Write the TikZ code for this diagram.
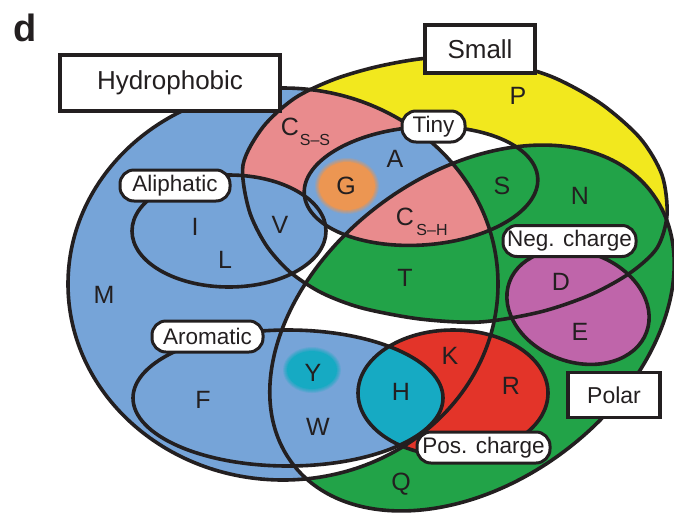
\documentclass[tikz,border=0pt]{standalone}
\usepackage{fontspec}
\setmainfont{Liberation Sans}
\definecolor{blu}{RGB}{118,164,216}
\definecolor{yel}{RGB}{242,232,30}
\definecolor{pnk}{RGB}{233,139,141}
\definecolor{grn}{RGB}{34,163,72}
\definecolor{rd}{RGB}{227,52,41}
\definecolor{cyn}{RGB}{22,170,195}
\definecolor{mag}{RGB}{191,101,170}
\definecolor{org}{RGB}{236,150,82}
\definecolor{lc}{RGB}{35,31,32}
\definecolor{tc}{RGB}{35,31,32}
\begin{document}
\begin{tikzpicture}[x=1pt,y=-1pt,
  outl/.style={draw=lc, line width=3.6pt},
  lab/.style={text=tc, font=\fontsize{25}{29}\selectfont, inner sep=0pt},
  sublab/.style={text=tc, font=\fontsize{16}{18}\selectfont, inner sep=0pt},
  pill/.style={draw=lc, fill=white, line width=3pt, rounded corners=14pt, minimum height=31pt, inner xsep=4pt, inner ysep=0pt, font=\fontsize{22.5}{26}\selectfont, text=tc},
  sqbox/.style={draw=lc, fill=white, line width=3.5pt, inner sep=0pt, text=tc}]
\useasboundingbox (0,0) rectangle (674,520);
\def\Hyd{(283,284) ellipse (215 and 196)}
\def\Pol{[rotate around={37:(472,328)}] (472,328) ellipse (225 and 154)}
\def\Sma{plot[smooth cycle] coordinates {(243,165) (249,210) (266,245) (290,272) (322,293) (362,308) (420,319) (480,322) (540,312) (590,295) (630,273) (657,248) (667,215) (662,175) (640,138) (600,103) (550,76) (490,60) (430,58) (380,66) (335,79) (295,98) (263,127)}}
\def\Tin{[rotate around={4:(421,186)}] (421,186) ellipse (117 and 59)}
\def\Ali{(229,231) ellipse (97 and 56)}
\def\Aro{(288,398) ellipse (155 and 68)}
\def\Pos{(453,393) ellipse (95 and 63)}
\def\Neg{[rotate around={-20:(578,307)}] (578,307) ellipse (73 and 55)}
% fills
\fill[yel] \Sma;
\fill[blu] \Hyd;
\begin{scope}\clip \Hyd; \fill[pnk] \Sma;\end{scope}
\begin{scope}\clip \Hyd; \clip \Sma;
  \fill[white] (312,212) -- (360,205) -- (380,250) -- (330,330) -- (280,290) -- cycle;
\end{scope}
\fill[grn] \Pol;
\begin{scope}\clip \Pol; \clip \Hyd; \fill[white] \Hyd; \fill[grn] \Sma;\end{scope}
\fill[white] \Tin;
\begin{scope}\clip \Hyd; \fill[blu] \Tin;\end{scope}
\begin{scope}\clip \Pol; \fill[grn] \Tin;\end{scope}
\begin{scope}\clip \Pol; \clip \Hyd; \fill[pnk] \Tin;\end{scope}
\fill[blu] \Ali;
\fill[blu] \Aro;
\fill[rd] \Pos;
\begin{scope}\clip \Aro; \fill[cyn] \Pos;\end{scope}
\fill[mag] \Neg;
% soft blobs
\foreach \r/\o in {4/0.2, 3/0.25, 2/0.3, 1/0.4}{
  \fill[org, opacity=\o] (347,186) ellipse ({28+\r} and {24+\r});
  \fill[cyn, opacity=\o] (312,370) ellipse ({25+\r} and {19+\r});
}
\fill[org] (347,186) ellipse (28 and 24);
\fill[cyn] (312,370) ellipse (25 and 19);
% outlines
\draw[outl] \Hyd;
\draw[outl] \Pol;
\draw[outl] \Sma;
\draw[outl] \Tin;
\draw[outl] \Ali;
\draw[outl] \Aro;
\draw[outl] \Pos;
\draw[outl] \Neg;
% boxes
\node[sqbox, minimum width=220pt, minimum height=56pt, font=\fontsize{26}{30}\selectfont] (hyd) at (170,83) {Hydrophobic};
\node[sqbox, minimum width=110pt, minimum height=48pt, font=\fontsize{26}{30}\selectfont] (sml) at (480,49) {Small};
\node[sqbox, minimum width=92pt, minimum height=45pt, font=\fontsize{23}{27}\selectfont] (pol) at (614,395) {Polar};
% pills
\node[pill, minimum width=63pt] (tiny) at (433.5,126.5) {Tiny};
\node[pill, minimum width=110pt] (ali) at (175,185.5) {Aliphatic};
\node[pill, minimum width=133pt] (neg) at (569.5,241) {Neg. charge};
\node[pill, minimum width=111pt] (aro) at (207.5,336.5) {Aromatic};
\node[pill, minimum width=133pt] (pos) at (483.5,447.5) {Pos. charge};
% panel letter
\node[text=tc, inner sep=0pt, font=\bfseries\fontsize{38}{40}\selectfont] (d) at (25,28) {d};
% amino acids
\node[lab] (nP) at (518,96) {P};
\node[lab] (nCss) at (290,127) {C};
\node[sublab] (nCss2) at (315,140) {S–S};
\node[lab] (nA) at (395,159) {A};
\node[lab] (nG) at (346,186) {G};
\node[lab] (nCsh) at (405,217) {C};
\node[sublab] (nCsh2) at (432,230) {S–H};
\node[lab] (nS) at (502,186) {S};
\node[lab] (nN) at (580,196) {N};
\node[lab] (nD) at (561,282) {D};
\node[lab] (nE) at (580,332) {E};
\node[lab] (nT) at (405,278) {T};
\node[lab] (nV) at (280,225) {V};
\node[lab] (nI) at (195,227) {I};
\node[lab] (nL) at (225,260) {L};
\node[lab] (nM) at (104,295) {M};
\node[lab] (nF) at (203,400) {F};
\node[lab] (nY) at (313,373) {Y};
\node[lab] (nW) at (318,427) {W};
\node[lab] (nH) at (401,392) {H};
\node[lab] (nK) at (450,356) {K};
\node[lab] (nR) at (511,386) {R};
\node[lab] (nQ) at (401,484) {Q};
\end{tikzpicture}
\end{document}
